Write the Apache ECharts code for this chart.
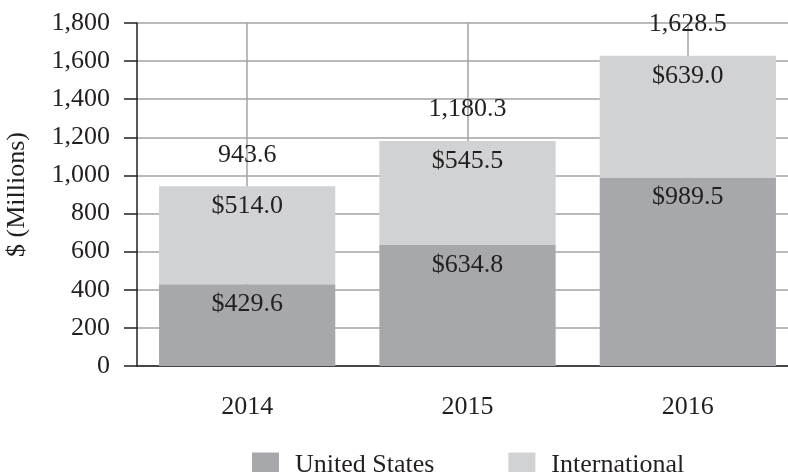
<!DOCTYPE html>
<html>
<head>
<meta charset="utf-8">
<script src="https://cdn.jsdelivr.net/npm/echarts@6/dist/echarts.min.js"></script>
<style>
  html, body { margin: 0; padding: 0; background: #fff; }
  #chart { width: 788px; height: 472px; }
</style>
</head>
<body>
<div id="chart"></div>
<script>
// 数据
var years = ['2014', '2015', '2016'];
var usValues = [429.6, 634.8, 989.5];
var intlValues = [514.0, 545.5, 639.0];
var totals = [943.6, 1180.3, 1628.5];

var font = 'Liberation Serif';
var ink = '#231f20';
var fs = 26;

var chart = echarts.init(document.getElementById('chart'));

var option = {
  animation: false,
  textStyle: { fontFamily: font, color: ink },
  grid: { left: 137, top: 23, width: 661, height: 343, outerBoundsMode: 'none' },
  legend: {
    data: ['United States', 'International'],
    left: 247,
    top: 447,
    itemWidth: 27,
    itemHeight: 25,
    itemGap: 74,
    icon: 'rect',
    textStyle: { fontFamily: font, fontSize: fs, color: ink, padding: [0, 0, 0, 11] }
  },
  xAxis: {
    type: 'category',
    data: years,
    axisLine: { lineStyle: { color: ink, width: 1.5 } },
    axisTick: { show: false },
    axisLabel: { fontFamily: font, fontSize: fs, color: ink, margin: 28 },
    splitLine: { show: false }
  },
  yAxis: {
    type: 'value',
    min: 0,
    max: 1800,
    interval: 200,
    name: '$ (Millions)',
    nameLocation: 'middle',
    nameGap: 107,
    nameTextStyle: { fontFamily: font, fontSize: fs, color: ink },
    axisLine: { show: true, lineStyle: { color: ink, width: 1.5 } },
    axisTick: { show: true, length: 13, lineStyle: { color: ink, width: 1.5 } },
    axisLabel: {
      fontFamily: font, fontSize: fs, color: ink, margin: 27,
      formatter: function (v) { return v.toLocaleString('en-US'); }
    },
    splitLine: { lineStyle: { color: '#a3a3a3', width: 1.5 } }
  },
  series: [
    {
      name: 'United States',
      type: 'bar',
      stack: 'total',
      barCategoryGap: '20%',
      itemStyle: { color: '#a7a8ab' },
      label: {
        show: true, position: 'insideTop', distance: 7,
        fontFamily: font, fontSize: fs, color: ink,
        formatter: function (p) { return '$' + p.value.toFixed(1); }
      },
      markLine: {
        silent: true,
        z: 1,
        symbol: 'none',
        label: { show: false },
        lineStyle: { color: '#a3a3a3', width: 1.5, type: 'solid' },
        data: years.map(function (y) { return { xAxis: y }; })
      },
      data: usValues
    },
    {
      name: 'International',
      type: 'bar',
      stack: 'total',
      itemStyle: { color: '#d1d2d4' },
      label: {
        show: true, position: 'insideTop', distance: 7,
        fontFamily: font, fontSize: fs, color: ink,
        formatter: function (p) { return '$' + p.value.toFixed(1); }
      },
      data: intlValues
    },
    {
      // 总计标签
      name: 'Total',
      type: 'scatter',
      symbolSize: 1,
      silent: true,
      z: 3,
      itemStyle: { color: 'rgba(0,0,0,0)', opacity: 1 },
      label: {
        show: true, position: 'top', distance: 18,
        fontFamily: font, fontSize: fs, color: ink, opacity: 1,
        formatter: function (p) { return p.value.toLocaleString('en-US', { minimumFractionDigits: 1 }); }
      },
      data: totals
    }
  ]
};

chart.setOption(option);
</script>
</body>
</html>
